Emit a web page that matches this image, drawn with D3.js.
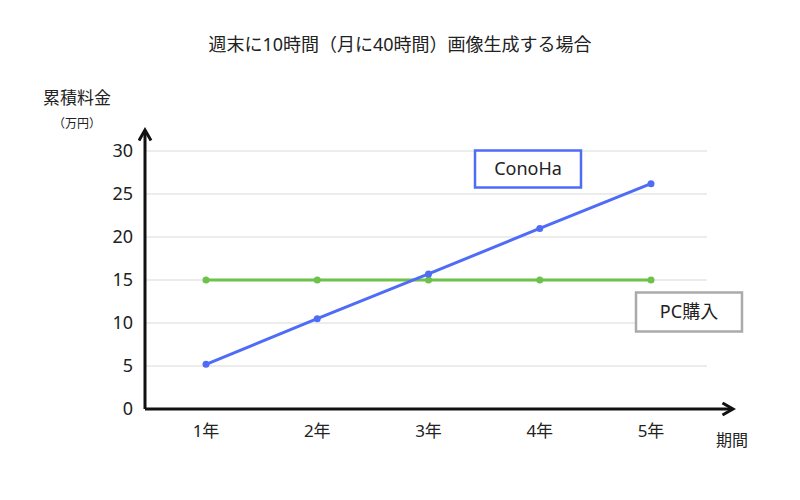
<!DOCTYPE html>
<html><head><meta charset="utf-8">
<script src="https://cdn.jsdelivr.net/npm/d3@7"></script>
<style>body{margin:0;background:#fff}text{font-family:"Noto Sans","Noto Sans CJK JP",sans-serif}</style>
</head><body><svg id="c" width="800" height="500"></svg>
<script>
const categories = ["1年","2年","3年","4年","5年"];
const conoha = [5.2, 10.5, 15.7, 21.0, 26.2];
const pc = [15, 15, 15, 15, 15];
const yTicks = [0,5,10,15,20,25,30];

const svg = d3.select("#c");
const x = d3.scalePoint().domain(categories).range([206,651]);
const y = d3.scaleLinear().domain([0,30]).range([409,151]);
const x0 = 145, x1 = 707;

svg.append("g").selectAll("line").data(yTicks.filter(d=>d>0)).join("line")
  .attr("x1",x0).attr("x2",x1).attr("y1",d=>y(d)).attr("y2",d=>y(d))
  .attr("stroke","#d9d9d9").attr("stroke-width",1);

svg.append("g").selectAll("text").data(yTicks).join("text")
  .attr("x",133).attr("y",d=>y(d)).attr("dy","0.35em").attr("text-anchor","end")
  .attr("font-size",18).attr("fill","#222").text(d=>d);
svg.append("g").selectAll("text").data(categories).join("text")
  .attr("x",d=>x(d)).attr("y",437).attr("text-anchor","middle")
  .attr("font-size",17).attr("fill","#222").text(d=>d);

svg.append("defs").append("marker").attr("id","ar").attr("viewBox","0 0 10 10")
  .attr("refX",8).attr("refY",5).attr("markerWidth",5).attr("markerHeight",5).attr("orient","auto")
  .append("path").attr("d","M1,1 L8,5 L1,9").attr("fill","none").attr("stroke","#111").attr("stroke-width",2);
svg.append("line").attr("x1",x0).attr("y1",409).attr("x2",x0).attr("y2",130)
  .attr("stroke","#111").attr("stroke-width",3).attr("marker-end","url(#ar)");
svg.append("line").attr("x1",x0).attr("y1",409).attr("x2",733).attr("y2",409)
  .attr("stroke","#111").attr("stroke-width",3).attr("marker-end","url(#ar)");

const line = d3.line().x((d,i)=>x(categories[i])).y(d=>y(d));
function series(data,color){
  svg.append("path").datum(data).attr("d",line).attr("fill","none").attr("stroke",color).attr("stroke-width",3);
  svg.append("g").selectAll("circle").data(data).join("circle")
    .attr("cx",(d,i)=>x(categories[i])).attr("cy",d=>y(d)).attr("r",3.5).attr("fill",color);
}
series(pc,"#6cc24a");
series(conoha,"#4f6cf7");

function box(xc,yc,w,h,label,color){
  svg.append("rect").attr("x",xc-w/2).attr("y",yc-h/2).attr("width",w).attr("height",h)
    .attr("fill","#fff").attr("stroke",color).attr("stroke-width",2.5);
  svg.append("text").attr("x",xc).attr("y",yc).attr("dy","0.35em").attr("text-anchor","middle")
    .attr("font-size",18).attr("fill","#222").text(label);
}
box(528,169,106,37,"ConoHa","#4f6cf7");
box(689,312,106,39,"PC購入","#aaa");

svg.append("text").attr("x",400).attr("y",51).attr("text-anchor","middle").attr("font-size",18).attr("fill","#222")
  .text("週末に10時間（月に40時間）画像生成する場合");
svg.append("text").attr("x",77).attr("y",104).attr("text-anchor","middle").attr("font-size",17).attr("fill","#222").text("累積料金");
svg.append("text").attr("x",77).attr("y",128).attr("text-anchor","middle").attr("font-size",12).attr("fill","#222").text("（万円）");
svg.append("text").attr("x",732).attr("y",446).attr("text-anchor","middle").attr("font-size",16).attr("fill","#222").text("期間");
</script></body></html>
